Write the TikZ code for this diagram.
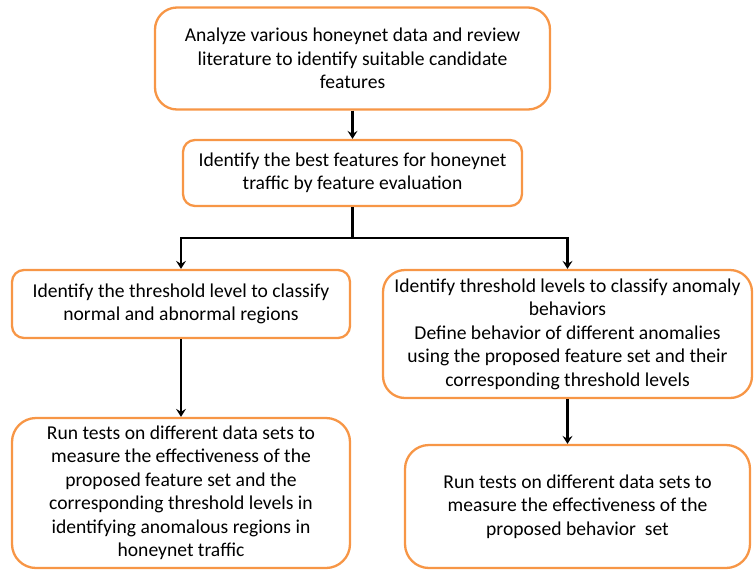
\documentclass[tikz,border=0pt]{standalone}
\usepackage{fontspec}
\setmainfont{Carlito}
\usetikzlibrary{arrows.meta}
\definecolor{boxorange}{HTML}{F79646}
\begin{document}
\begin{tikzpicture}[x=1pt,y=-1pt,
  box/.style={draw=boxorange,line width=2.3pt,fill=white,align=center,
    font=\fontsize{19.6}{23.5}\selectfont,inner sep=1pt},
  conn/.style={draw=black,line width=2.2pt},
  arr/.style={conn,-{Stealth[length=8pt,width=10pt,inset=3pt]}}]
\useasboundingbox (0,0) rectangle (755,571);
\node[box,rounded corners=22pt,minimum width=395pt,minimum height=102pt] (b1) at (352.5,58.5)
  {Analyze various honeynet data and review\\literature to identify suitable candidate\\features};
\node[box,rounded corners=12pt,minimum width=339pt,minimum height=66pt] (b2) at (352.5,173)
  {Identify the best features for honeynet\\traffic by feature evaluation};
\node[box,rounded corners=12pt,minimum width=338pt,minimum height=68pt] (b3) at (181,304)
  {Identify the threshold level to classify\\normal and abnormal regions};
\node[box,rounded corners=22pt,minimum width=369pt,minimum height=128pt] (b4) at (567.5,334)
  {Identify threshold levels to classify anomaly\\behaviors\\Define behavior of different anomalies\\using the proposed feature set and their\\corresponding threshold levels};
\node[box,rounded corners=24pt,minimum width=338pt,minimum height=150pt] (b5) at (181,493)
  {Run tests on different data sets to\\measure the effectiveness of the\\proposed feature set and the\\corresponding threshold levels in\\identifying anomalous regions in\\honeynet traffic};
\node[box,rounded corners=24pt,minimum width=345pt,minimum height=123pt] (b6) at (577.5,506.5)
  {Run tests on different data sets to\\measure the effectiveness of the\\proposed behavior\ \ set};
\coordinate (j) at (352.5,238);
\draw[arr] (b1.south) -- (b2.north);
\draw[conn] (b2.south) -- (j);
\draw[arr] (j) -| (b3.north);
\draw[arr] (j) -| (b4.north);
\draw[arr] (b3.south) -- (b5.north);
\draw[arr] (b4.south -| b4.north) -- (b6.north -| b4.north);
\end{tikzpicture}
\end{document}
